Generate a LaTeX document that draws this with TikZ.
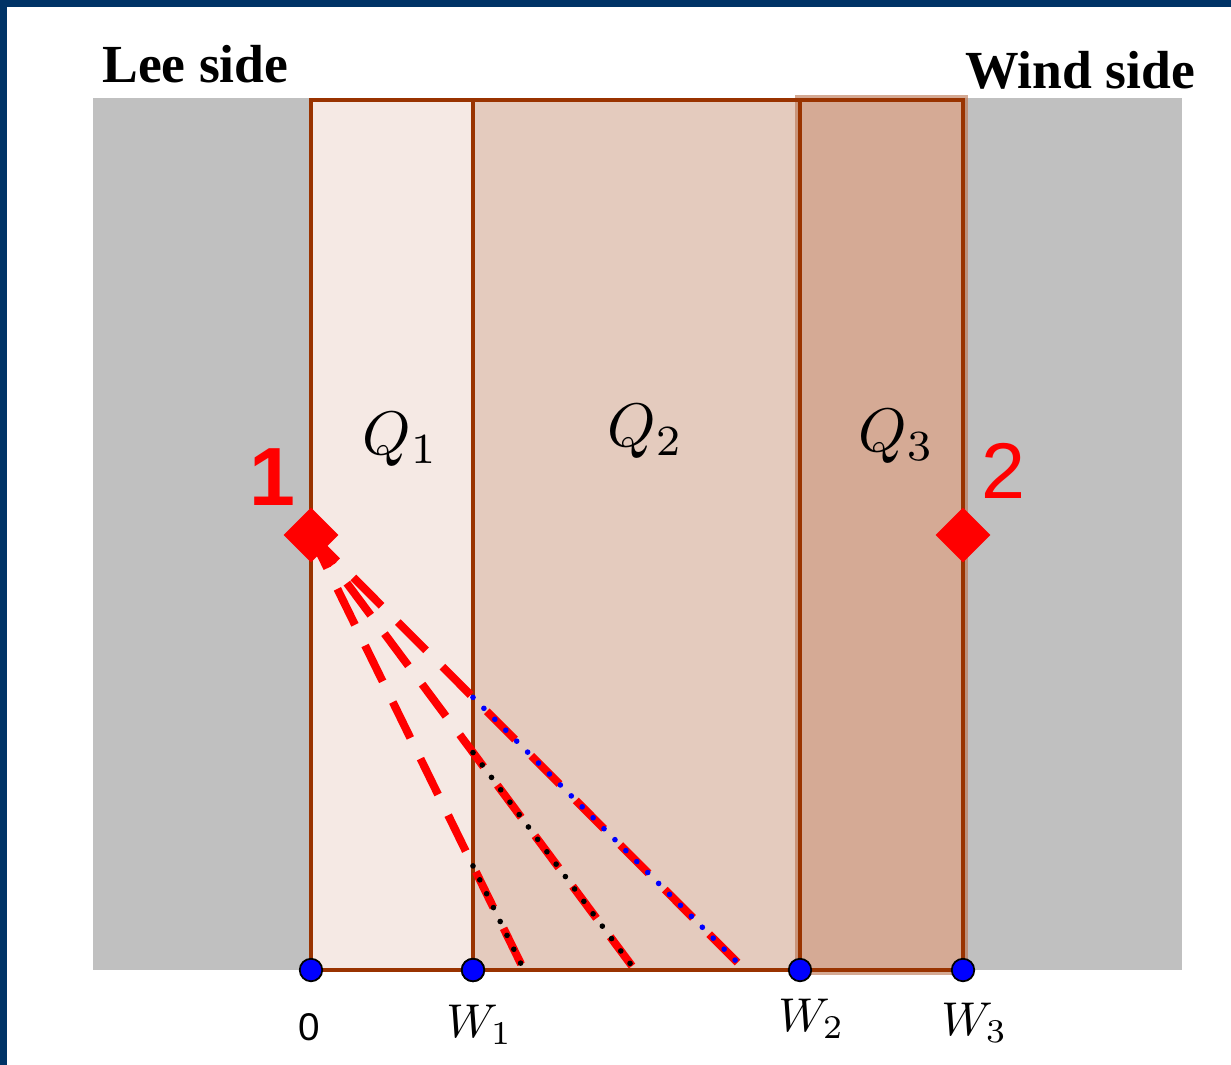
\documentclass[tikz,border=0pt]{standalone}
\usepackage{fontspec}
\setmainfont{Liberation Serif}
\newfontfamily\lsans{Liberation Sans}
\usetikzlibrary{shapes.geometric}
\definecolor{frameblue}{RGB}{0,51,102}
\definecolor{wallgray}{RGB}{192,192,192}
\definecolor{qone}{RGB}{245,233,228}
\definecolor{qtwo}{RGB}{228,203,190}
\definecolor{qthree}{RGB}{213,170,149}
\definecolor{brownline}{RGB}{153,51,0}
\begin{document}
\begin{tikzpicture}[x=0.02cm,y=-0.02cm,
  sidelabel/.style={font=\fontsize{30.5}{36}\selectfont\bfseries, inner sep=0pt, anchor=base west},
  qlabel/.style={inner sep=0pt, anchor=base west},
  wlabel/.style={inner sep=0pt, anchor=base west},
  zerolabel/.style={font=\lsans\fontsize{22}{26}\selectfont, inner sep=0pt, anchor=base},
  srclabel/.style={text=red, inner sep=0pt, anchor=base},
  regionborder/.style={draw=brownline, line width=2pt},
  raydash/.style={red, line width=4.55pt, dash pattern=on 22.76pt off 13.09pt, dash phase=1.7pt},
  bluedots/.style={blue, line width=3.2pt, line cap=round, dash pattern=on 0pt off 8.8pt},
  blackdots/.style={black, line width=3.2pt, line cap=round, dash pattern=on 0pt off 8.8pt},
  endpt/.style={circle, fill=blue, draw=black, line width=1pt, minimum size=0.45cm, inner sep=0pt},
  source/.style={diamond, fill=red, inner sep=0pt, minimum width=1.1cm, minimum height=1.1cm}
]
\useasboundingbox (0,0) rectangle (1231,1065);
\fill[white] (0,0) rectangle (1231,1065);
% frame
\fill[frameblue] (0,0) rectangle (1231,7);
\fill[frameblue] (0,0) rectangle (7,1065);
% walls
\fill[wallgray] (93,98) rectangle (1182,970);
% coordinates of the layers
\coordinate (q1tl) at (311,100);
\coordinate (w1top) at (473,100);
\coordinate (w2top) at (800,100);
\coordinate (w3top) at (963,100);
% regions
\fill[qone] (311,100) rectangle (473,970);
\fill[qtwo] (473,100) rectangle (800,970);
\draw[brownline!70!white, line width=6pt, opacity=0.6] (800,100) rectangle (963,970);
\fill[qthree] (800,100) rectangle (963,970);
\draw[regionborder] (311,100) rectangle (473,970);
\draw[regionborder] (473,100) rectangle (800,970);
\draw[brownline, line width=2.5pt] (800,100) rectangle (963,970);
% points on the ground
\node[endpt] (p0) at (311,970) {};
\node[endpt] (p1) at (473,970) {};
\node[endpt] (p2) at (800,970) {};
\node[endpt] (p3) at (963,970) {};
% rays
\coordinate (s1) at (311,535);
\coordinate (eL) at (522,966);
\coordinate (eM) at (632,966);
\coordinate (eR) at (743,968);
\coordinate (cL) at (intersection of s1--eL and w1top--p1.center);
\coordinate (cM) at (intersection of s1--eM and w1top--p1.center);
\coordinate (cR) at (intersection of s1--eR and w1top--p1.center);
\draw[raydash] (s1) -- (eL);
\draw[raydash] (s1) -- (eM);
\draw[raydash] (s1) -- (eR);
\draw[blackdots] (cL) -- (eL);
\draw[blackdots] (cM) -- (eM);
\draw[bluedots] (cR) -- (eR);
% redraw ground point above rays
\node[endpt] at (p1) {};
% sources
\node[source] (src1) at (s1) {};
\node[source] (src2) at (963,535) {};
\node[srclabel, font=\lsans\bfseries\fontsize{47}{52}\selectfont] (n1) at (272,505) {1};
\node[srclabel, font=\lsans\fontsize{45}{50}\selectfont] (n2) at (1003,498) {2};
% labels
\node[sidelabel] (lee) at (102,82) {Lee side};
\node[sidelabel] (wind) at (965,88) {Wind side};
\node[qlabel] (lq1) at (362,454) {\scalebox{3.5}{$Q_1$}};
\node[qlabel] (lq2) at (607,446) {\scalebox{3.5}{$Q_2$}};
\node[qlabel] (lq3) at (858,451) {\scalebox{3.5}{$Q_3$}};
\node[zerolabel] (l0) at (309,1040) {0};
\node[wlabel] (lw1) at (446,1037) {\scalebox{2.7}{$W_1$}};
\node[wlabel] (lw2) at (778,1031) {\scalebox{2.7}{$W_2$}};
\node[wlabel] (lw3) at (941,1035) {\scalebox{2.7}{$W_3$}};
\end{tikzpicture}
\end{document}
